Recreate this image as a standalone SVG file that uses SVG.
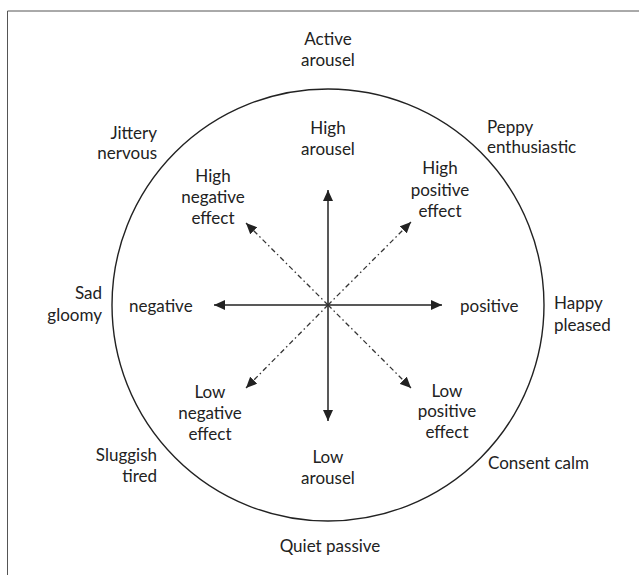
<svg xmlns="http://www.w3.org/2000/svg" width="639" height="575" viewBox="0 0 639 575">
<style>
text{font-family:Lato,"Open Sans","Liberation Sans",sans-serif;font-size:17px;fill:#222}
.m{text-anchor:middle}.e{text-anchor:end}.s{text-anchor:start}
.solid{stroke:#222;stroke-width:1.5;fill:none}
.dash{stroke:#333;stroke-width:1.3;fill:none;stroke-dasharray:5 3 1.5 3}
</style>
<defs>
<marker id="ah" markerUnits="userSpaceOnUse" markerWidth="12" markerHeight="10" refX="11" refY="5" orient="auto-start-reverse">
<path d="M0,0 L11,5 L0,10 z" fill="#222"/>
</marker>
</defs>
<rect width="639" height="575" fill="#fff"/>
<g id="frame" stroke="#555" stroke-width="1" fill="none">
<path d="M639,11 H7.5 V575"/>
</g>
<g id="circle"><circle cx="328" cy="305" r="216" fill="none" stroke="#222" stroke-width="1.4"/></g>
<g id="connectors">
<line class="solid" x1="328" y1="190" x2="328" y2="421" marker-start="url(#ah)" marker-end="url(#ah)"/>
<line class="solid" x1="214" y1="305" x2="442" y2="305" marker-start="url(#ah)" marker-end="url(#ah)"/>
<line class="dash" x1="328" y1="305" x2="246" y2="223" marker-end="url(#ah)"/>
<line class="dash" x1="328" y1="305" x2="411" y2="222" marker-end="url(#ah)"/>
<line class="dash" x1="328" y1="305" x2="246" y2="388" marker-end="url(#ah)"/>
<line class="dash" x1="328" y1="305" x2="411" y2="388" marker-end="url(#ah)"/>
</g>
<g id="active-arousel"><text class="m" x="328" y="45">Active</text><text class="m" x="328" y="66">arousel</text></g>
<g id="high-arousel"><text class="m" x="328" y="134">High</text><text class="m" x="328" y="155">arousel</text></g>
<g id="jittery-nervous"><text class="e" x="157" y="139">Jittery</text><text class="e" x="157" y="159">nervous</text></g>
<g id="high-negative-effect"><text class="m" x="213" y="182">High</text><text class="m" x="213" y="203">negative</text><text class="m" x="213" y="224">effect</text></g>
<g id="peppy-enthusiastic"><text class="s" x="487" y="133">Peppy</text><text class="s" x="487" y="153">enthusiastic</text></g>
<g id="high-positive-effect"><text class="m" x="440" y="174">High</text><text class="m" x="440" y="196">positive</text><text class="m" x="440" y="217">effect</text></g>
<g id="sad-gloomy"><text class="e" x="102" y="299">Sad</text><text class="e" x="102" y="321">gloomy</text></g>
<g id="negative"><text class="s" x="129" y="312">negative</text></g>
<g id="positive"><text class="s" x="460" y="312">positive</text></g>
<g id="happy-pleased"><text class="s" x="554" y="309">Happy</text><text class="s" x="554" y="331">pleased</text></g>
<g id="low-negative-effect"><text class="m" x="210" y="398">Low</text><text class="m" x="210" y="419">negative</text><text class="m" x="210" y="440">effect</text></g>
<g id="low-positive-effect"><text class="m" x="447" y="397">Low</text><text class="m" x="447" y="417">positive</text><text class="m" x="447" y="438">effect</text></g>
<g id="sluggish-tired"><text class="e" x="157" y="461">Sluggish</text><text class="e" x="157" y="482">tired</text></g>
<g id="low-arousel"><text class="m" x="328" y="463">Low</text><text class="m" x="328" y="484">arousel</text></g>
<g id="consent-calm"><text class="s" x="488" y="469">Consent calm</text></g>
<g id="quiet-passive"><text class="m" x="330" y="552">Quiet passive</text></g>
</svg>
